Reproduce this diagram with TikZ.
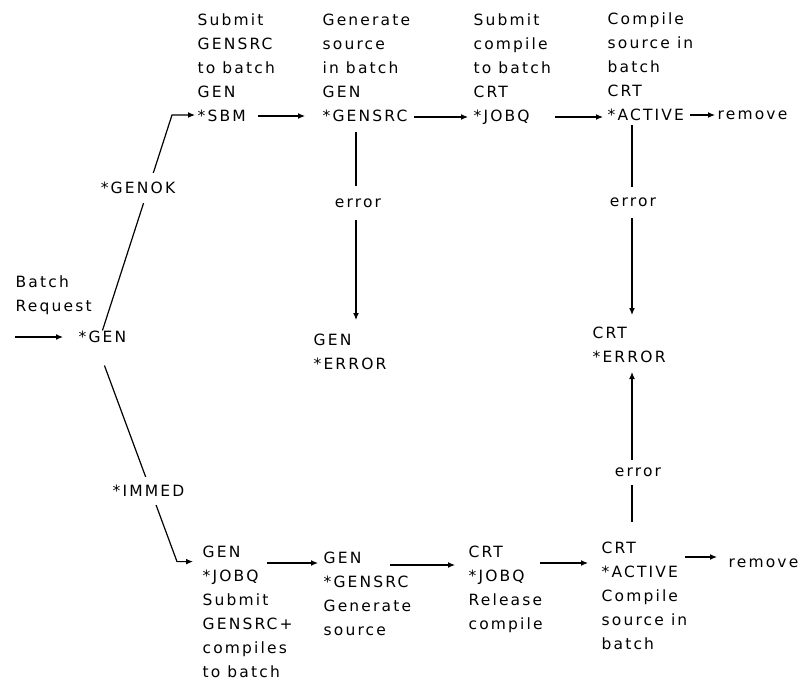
\documentclass[tikz,border=0pt]{standalone}
\usepackage{fontspec}
\setmainfont{DejaVu Sans}[LetterSpace=14]
\usetikzlibrary{arrows.meta}
\begin{document}
\begin{tikzpicture}[x=1pt,y=-1pt,line width=1.2pt,
  txt/.style={font=\fontsize{15.5pt}{24pt}\selectfont, inner sep=0pt, align=left, anchor=base west},
  one/.style={font=\fontsize{15.5pt}{24pt}\selectfont, inner sep=0pt, anchor=west},
  lbl/.style={font=\fontsize{15.5pt}{24pt}\selectfont, fill=white, inner xsep=1pt},
  arr/.style={-{Latex[length=7pt,width=6pt]}}]
\useasboundingbox (0,0) rectangle (810,682);

% nodes (base west = baseline of the last line)
\node[txt] (batch) at (15,311.6) {Batch\\Request};
\node[one] (gen) at (78,337) {*GEN};
\node[txt] (sbm) at (197,121.6) {Submit\\GENSRC\\to batch\\GEN\\*SBM};
\node[txt] (tgensrc) at (322,121.6) {Generate\\source\\in batch\\GEN\\*GENSRC};
\node[txt] (tjobq) at (473,121.6) {Submit\\compile\\to batch\\CRT\\*JOBQ};
\node[txt] (tactive) at (607,120.6) {Compile\\source in\\batch\\CRT\\*ACTIVE};
\node[one] (rem1) at (717,115) {remove};
\node[txt] (generr) at (313,369.6) {GEN\\*ERROR};
\node[txt] (crterr) at (592,362.6) {CRT\\*ERROR};
\node[txt] (bgjobq) at (202,677.6) {GEN\\*JOBQ\\Submit\\GENSRC+\\compiles\\to batch};
\node[txt] (bgensrc) at (323,635.6) {GEN\\*GENSRC\\Generate\\source};
\node[txt] (bcjobq) at (468,629.6) {CRT\\*JOBQ\\Release\\compile};
\node[txt] (bactive) at (601,649.6) {CRT\\*ACTIVE\\Compile\\source in\\batch};
\node[one] (rem2) at (728,563) {remove};

% input
\coordinate (in) at (15,337);
\draw[arr] (in) -- ([shift={(-15,0)}]gen.west);

% branches from *GEN
\coordinate (okbend) at (172,115);
\draw[arr] (gen.north) -- (okbend) -- ([shift={(-2,-6.6)}]sbm.base west);
\node[lbl, inner ysep=9pt] (genok) at (138,188) {*GENOK};

\coordinate (imbend) at (177,561.6);
\draw[arr] ([shift={(2,22)}]gen.south) -- (imbend) -- ([shift={(-9,-116)}]bgjobq.base west);
\node[lbl, inner ysep=8pt] (immed) at (148.5,491) {*IMMED};

% top row
\draw[arr] ([shift={(61,-5.6)}]sbm.base west) -- ([shift={(-17,-5.6)}]tgensrc.base west);
\draw[arr] ([shift={(92,-4.6)}]tgensrc.base west) -- ([shift={(-5,-4.6)}]tjobq.base west);
\draw[arr] ([shift={(82,-4.6)}]tjobq.base west) -- ([shift={(-4,-3.6)}]tactive.base west);
\draw[arr] ([shift={(83,-5.6)}]tactive.base west) -- ([shift={(-2,0)}]rem1.west);

% bottom row
\draw[arr] ([shift={(65,-114.6)}]bgjobq.base west) -- ([shift={(-5,-72.6)}]bgensrc.base west);
\draw[arr] ([shift={(67,-70.6)}]bgensrc.base west) -- ([shift={(-13,-64.6)}]bcjobq.base west);
\draw[arr] ([shift={(72,-66.6)}]bcjobq.base west) -- ([shift={(-13,-86.6)}]bactive.base west);
\draw[arr] ([shift={(84,-92.6)}]bactive.base west) -- ([shift={(-11,-6)}]rem2.west);

% error paths
\draw[arr] ([shift={(34,10.4)}]tgensrc.base west) -- ([shift={(43,-49.6)}]generr.base west);
\node[lbl, inner ysep=12.5pt] (err1) at (358,203) {error};

\draw[arr] ([shift={(25,4.4)}]tactive.base west) -- ([shift={(40,-47.6)}]crterr.base west);
\node[lbl, inner ysep=11pt] (err2) at (633,202.5) {error};

\draw[arr] ([shift={(31,-127.6)}]bactive.base west) -- ([shift={(40,9.4)}]crterr.base west);
\node[lbl, inner ysep=8pt] (err3) at (638,472.5) {error};
\end{tikzpicture}
\end{document}
